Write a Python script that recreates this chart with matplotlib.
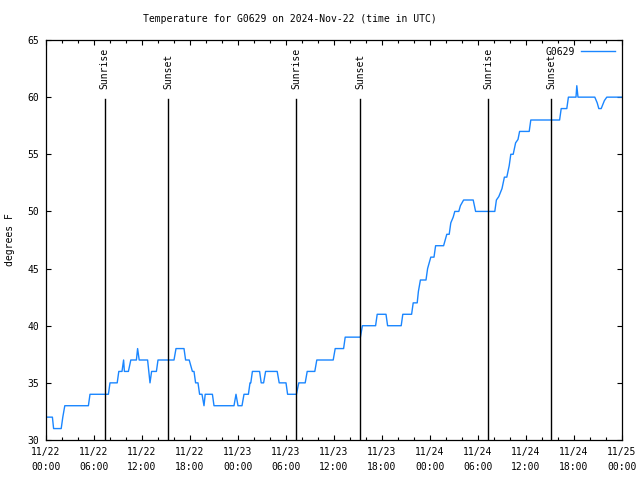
import matplotlib
matplotlib.use("Agg")
import matplotlib.pyplot as plt
from matplotlib.ticker import MultipleLocator, FixedLocator

# Hours since 2024-11-22 00:00 UTC and temperature (deg F)
hours = [0, 0.8, 0.95, 1.9, 2.1, 2.35, 5.3, 5.5, 7.8, 8.0, 8.9, 9.1, 9.5, 9.7, 9.8, 10.3,
         10.6, 11.3, 11.45, 11.65, 12.7, 12.85, 13.0, 13.2, 13.8, 14.0, 16.0, 16.25, 17.25,
         17.45, 17.9, 18.3, 18.5, 18.7, 19.0, 19.2, 19.5, 19.75, 19.9, 20.8, 21.0, 23.5,
         23.75, 24.0, 24.5, 24.75, 25.3, 25.5, 25.6, 25.8, 26.7, 26.9, 27.2, 27.45, 28.9,
         29.15, 30.0, 30.2, 31.3, 31.6, 32.4, 32.65, 33.6, 33.85, 35.9, 36.15, 37.2, 37.4,
         39.3, 39.55, 41.2, 41.4, 42.5, 42.7, 44.4, 44.6, 45.7, 45.9, 46.4, 46.55, 46.8,
         47.5, 47.7, 47.9, 48.1, 48.5, 48.7, 49.7, 49.9, 50.1, 50.4, 50.6, 50.9, 51.1, 51.6,
         51.8, 52.2, 53.4, 53.7, 56.1, 56.3, 56.6, 57.0, 57.3, 57.6, 57.9, 58.1, 58.4, 58.7,
         59.0, 59.2, 60.4, 60.6, 64.2, 64.4, 65.1, 65.3, 66.25, 66.35, 66.5, 68.6, 68.9,
         69.1, 69.4, 69.8, 70.1, 72.0]
temps = [32, 32, 31, 31, 32, 33, 33, 34, 34, 35, 35, 36, 36, 37, 36, 36,
         37, 37, 38, 37, 37, 36, 35, 36, 36, 37, 37, 38, 38,
         37, 37, 36, 36, 35, 35, 34, 34, 33, 34, 34, 33, 33,
         34, 33, 33, 34, 34, 35, 35, 36, 36, 35, 35, 36, 36,
         35, 35, 34, 34, 35, 35, 36, 36, 37, 37, 38, 38, 39,
         39, 40, 40, 41, 41, 40, 40, 41, 41, 42, 42, 43, 44,
         44, 45, 45.5, 46, 46, 47, 47, 47.5, 48, 48, 49, 49.5, 50, 50,
         50.5, 51, 51, 50, 50, 51, 51.3, 52, 53, 53, 54, 55, 55, 56,
         56.3, 57, 57, 58, 58, 59, 59, 60, 60, 61, 60, 60, 59.5,
         59, 59, 59.7, 60, 60]

sun_hours = [7.35, 15.25, 31.3, 39.25, 55.3, 63.15]
sun_labels = ["Sunrise", "Sunset", "Sunrise", "Sunset", "Sunrise", "Sunset"]
sun_top = 59.8
sun_text_y = 60.7

xtick_hours = list(range(0, 73, 6))
xtick_labels = ["11/22\n00:00", "11/22\n06:00", "11/22\n12:00", "11/22\n18:00",
                "11/23\n00:00", "11/23\n06:00", "11/23\n12:00", "11/23\n18:00",
                "11/24\n00:00", "11/24\n06:00", "11/24\n12:00", "11/24\n18:00",
                "11/25\n00:00"]

plt.rcParams['font.family'] = ['DejaVu Sans Mono']
FS = 7.0

fig = plt.figure(figsize=(6.4, 4.8), dpi=100)
ax = fig.add_axes([46/640, 40/480, 576/640, 400/480])

ax.plot(hours, temps, color='#1a86ff', linewidth=1.0, label='G0629')

for h, lab in zip(sun_hours, sun_labels):
    ax.plot([h, h], [30, sun_top], color='black', linewidth=1.0)
    ax.text(h, sun_text_y, lab, rotation=90, ha='center', va='bottom',
            fontsize=FS, color='black')

ax.set_xlim(0, 72)
ax.set_ylim(30, 65)
ax.xaxis.set_major_locator(FixedLocator(xtick_hours))
ax.set_xticklabels(xtick_labels, fontsize=FS, linespacing=1.6)
ax.xaxis.set_minor_locator(MultipleLocator(2))
ax.yaxis.set_major_locator(MultipleLocator(5))
ax.tick_params(axis='both', which='both', direction='in', top=True, right=True,
               labelsize=FS, width=0.8)
ax.tick_params(axis='both', which='major', length=3.5)
ax.tick_params(axis='both', which='minor', length=2)
ax.tick_params(axis='x', pad=5)
ax.tick_params(axis='y', pad=5)
for s in ax.spines.values():
    s.set_linewidth(0.9)

ax.set_ylabel('degrees F', fontsize=FS, labelpad=9)
fig.text(290/640, 1 - 19/480, 'Temperature for G0629 on 2024-Nov-22 (time in UTC)',
         fontsize=FS, ha='center', va='center')

leg = ax.legend(loc='upper right', frameon=False, fontsize=FS, handlelength=3.5,
                handletextpad=0.6, borderaxespad=0.3, markerfirst=False)

fig.savefig('out.png', dpi=100)
